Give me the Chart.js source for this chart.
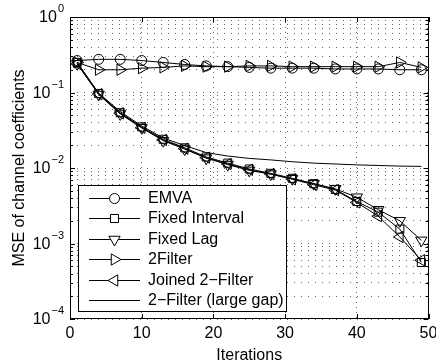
<!DOCTYPE html>
<html>
<head>
<meta charset="utf-8">
<script src="https://cdn.jsdelivr.net/npm/chart.js@4.4.1/dist/chart.umd.min.js"></script>
<style>
  html, body { margin: 0; padding: 0; background: #fff; }
  #wrap { width: 436px; height: 363px; }
</style>
</head>
<body>
<div id="wrap"><canvas id="chart" width="436" height="363"></canvas></div>
<script>
// data (one marker every 3 iterations)
const iterations = [1, 4, 7, 10, 13, 16, 19, 22, 25, 28, 31, 34, 37, 40, 43, 46, 49];
const emva          = [0.265, 0.275, 0.275, 0.265, 0.25, 0.235, 0.225, 0.22, 0.215, 0.21, 0.21, 0.21, 0.205, 0.205, 0.205, 0.2, 0.2];
const fixedInterval = [0.25, 0.097, 0.054, 0.035, 0.024, 0.0185, 0.014, 0.0116, 0.0097, 0.0085, 0.0073, 0.0062, 0.0052, 0.0036, 0.0026, 0.00155, 0.00056];
const fixedLag      = [0.24, 0.094, 0.052, 0.034, 0.023, 0.0178, 0.0135, 0.0111, 0.0093, 0.0083, 0.0072, 0.0062, 0.0053, 0.0041, 0.0028, 0.002, 0.0011];
const twoFilter     = [0.25, 0.2, 0.2, 0.21, 0.215, 0.225, 0.22, 0.22, 0.225, 0.225, 0.22, 0.22, 0.22, 0.22, 0.22, 0.25, 0.215];
const joined2Filter = [0.24, 0.095, 0.053, 0.034, 0.0235, 0.018, 0.0137, 0.0113, 0.0095, 0.0083, 0.0071, 0.006, 0.0051, 0.0035, 0.0023, 0.00122, 0.0006];
const largeGap      = [0.25, 0.098, 0.056, 0.036, 0.025, 0.0198, 0.016, 0.0144, 0.0134, 0.0128, 0.0121, 0.0116, 0.0113, 0.011, 0.0108, 0.0106, 0.0105];

const seriesLabels = ['EMVA', 'Fixed Interval', 'Fixed Lag', '2Filter', 'Joined 2\u2212Filter', '2\u2212Filter (large gap)'];
const xTicks = [0, 10, 20, 30, 40, 50];
const yDecades = [-4, -3, -2, -1, 0];
const xTitle = 'Iterations';
const yTitle = 'MSE of channel coefficients';

const FONT = '"Liberation Sans", Arial, Helvetica, sans-serif';

const toPoints = arr => iterations.map((x, i) => ({ x, y: arr[i] }));

function series(label, arr, style, radius, rotation) {
  return {
    label, data: toPoints(arr),
    borderColor: '#000', borderWidth: 1,
    pointStyle: style, pointRadius: radius, pointRotation: rotation || 0,
    pointBorderColor: '#000', pointBackgroundColor: 'rgba(0,0,0,0)', pointBorderWidth: 1,
    tension: 0, fill: false
  };
}

const datasets = [
  series(seriesLabels[0], emva, 'circle', 5),
  series(seriesLabels[1], fixedInterval, 'rect', 5.7),
  series(seriesLabels[2], fixedLag, 'triangle', 6.5, 180),
  series(seriesLabels[3], twoFilter, 'triangle', 6.5, 90),
  series(seriesLabels[4], joined2Filter, 'triangle', 6.5, 270),
  series(seriesLabels[5], largeGap, false, 0)
];

// log ticks: 1..9 x 10^e for each decade, plus the top
function logTicks() {
  const t = [];
  for (let e = yDecades[0]; e < yDecades[yDecades.length - 1]; e++) {
    for (let m = 1; m <= 9; m++) t.push({ value: m * Math.pow(10, e), major: m === 1 });
  }
  t.push({ value: 1, major: true });
  return t;
}

// MATLAB-style frame, inward ticks, labels and legend
const matlabLook = {
  id: 'matlabLook',
  afterDraw(chart) {
    const { ctx, chartArea: a, scales } = chart;
    const xs = scales.x, ys = scales.y;
    ctx.save();
    ctx.strokeStyle = '#000';
    ctx.lineWidth = 1;
    ctx.strokeRect(Math.round(a.left) + 0.5, Math.round(a.top) + 0.5,
      Math.round(a.right - a.left) - 1, Math.round(a.bottom - a.top) - 1);

    // tick marks
    ctx.beginPath();
    ys.ticks.forEach(t => {
      const y = Math.round(ys.getPixelForValue(t.value)) + 0.5;
      const len = t.major ? 5 : 3;
      ctx.moveTo(a.left, y); ctx.lineTo(a.left + len, y);
      ctx.moveTo(a.right, y); ctx.lineTo(a.right - len, y);
    });
    xTicks.forEach(v => {
      const x = Math.round(xs.getPixelForValue(v)) + 0.5;
      ctx.moveTo(x, a.bottom); ctx.lineTo(x, a.bottom - 5);
      ctx.moveTo(x, a.top); ctx.lineTo(x, a.top + 5);
    });
    ctx.stroke();

    // x tick labels
    ctx.fillStyle = '#000';
    ctx.font = '16px ' + FONT;
    ctx.textAlign = 'center';
    ctx.textBaseline = 'middle';
    xTicks.forEach(v => ctx.fillText(String(v), xs.getPixelForValue(v), a.bottom + 15));
    ctx.fillText(xTitle, (a.left + a.right) / 2, a.bottom + 37);

    // y tick labels 10^e
    yDecades.forEach(e => {
      const y = ys.getPixelForValue(Math.pow(10, e));
      const exp = e === 0 ? '0' : '\u2212' + (-e);
      ctx.font = '11px ' + FONT;
      const we = ctx.measureText(exp).width;
      const right = a.left - 6;
      ctx.textAlign = 'left';
      ctx.fillText(exp, right - we, y - 8);
      ctx.font = '16px ' + FONT;
      ctx.textAlign = 'right';
      ctx.fillText('10', right - we - 1, y + 1);
    });

    // y title
    ctx.save();
    ctx.translate(20, (a.top + a.bottom) / 2);
    ctx.rotate(-Math.PI / 2);
    ctx.textAlign = 'center';
    ctx.font = '16px ' + FONT;
    ctx.fillText(yTitle, 0, 0);
    ctx.restore();

    // legend box
    const bx = 78, by = 185, bw = 208, bh = 126, row = 20.4, first = 198;
    ctx.fillStyle = '#fff';
    ctx.fillRect(bx, by, bw, bh);
    ctx.strokeRect(bx + 0.5, by + 0.5, bw, bh);
    ctx.font = '16px ' + FONT;
    ctx.textAlign = 'left';
    chart.data.datasets.forEach((ds, i) => {
      const y = Math.round(first + i * row) + 0.5;
      ctx.strokeStyle = '#000';
      ctx.beginPath(); ctx.moveTo(89, y); ctx.lineTo(140, y); ctx.stroke();
      if (ds.pointStyle) {
        ctx.fillStyle = '#fff';
        Chart.helpers.drawPoint(ctx, {
          pointStyle: ds.pointStyle, radius: ds.pointRadius,
          rotation: ds.pointRotation, borderWidth: 1
        }, 114.5, y);
      }
      ctx.fillStyle = '#000';
      ctx.fillText(ds.label, 148, y);
    });
    ctx.restore();
  }
};

new Chart(document.getElementById('chart').getContext('2d'), {
  type: 'line',
  data: { datasets },
  options: {
    responsive: false,
    animation: false,
    devicePixelRatio: 1,
    layout: { padding: { left: 70, top: 17, right: 7, bottom: 44 } },
    plugins: { legend: { display: false }, tooltip: { enabled: false } },
    scales: {
      x: {
        type: 'linear', min: 0, max: 50,
        ticks: { display: false, stepSize: 10 },
        grid: { color: '#666', drawTicks: false, tickLength: 0, lineWidth: 1 },
        border: { display: false, dash: [1, 4] }
      },
      y: {
        type: 'logarithmic', min: 1e-4, max: 1,
        afterBuildTicks: s => { s.ticks = logTicks(); },
        ticks: { display: false },
        grid: { color: '#666', drawTicks: false, tickLength: 0, lineWidth: 1 },
        border: { display: false, dash: [1, 6] }
      }
    }
  },
  plugins: [matlabLook]
});
</script>
</body>
</html>
